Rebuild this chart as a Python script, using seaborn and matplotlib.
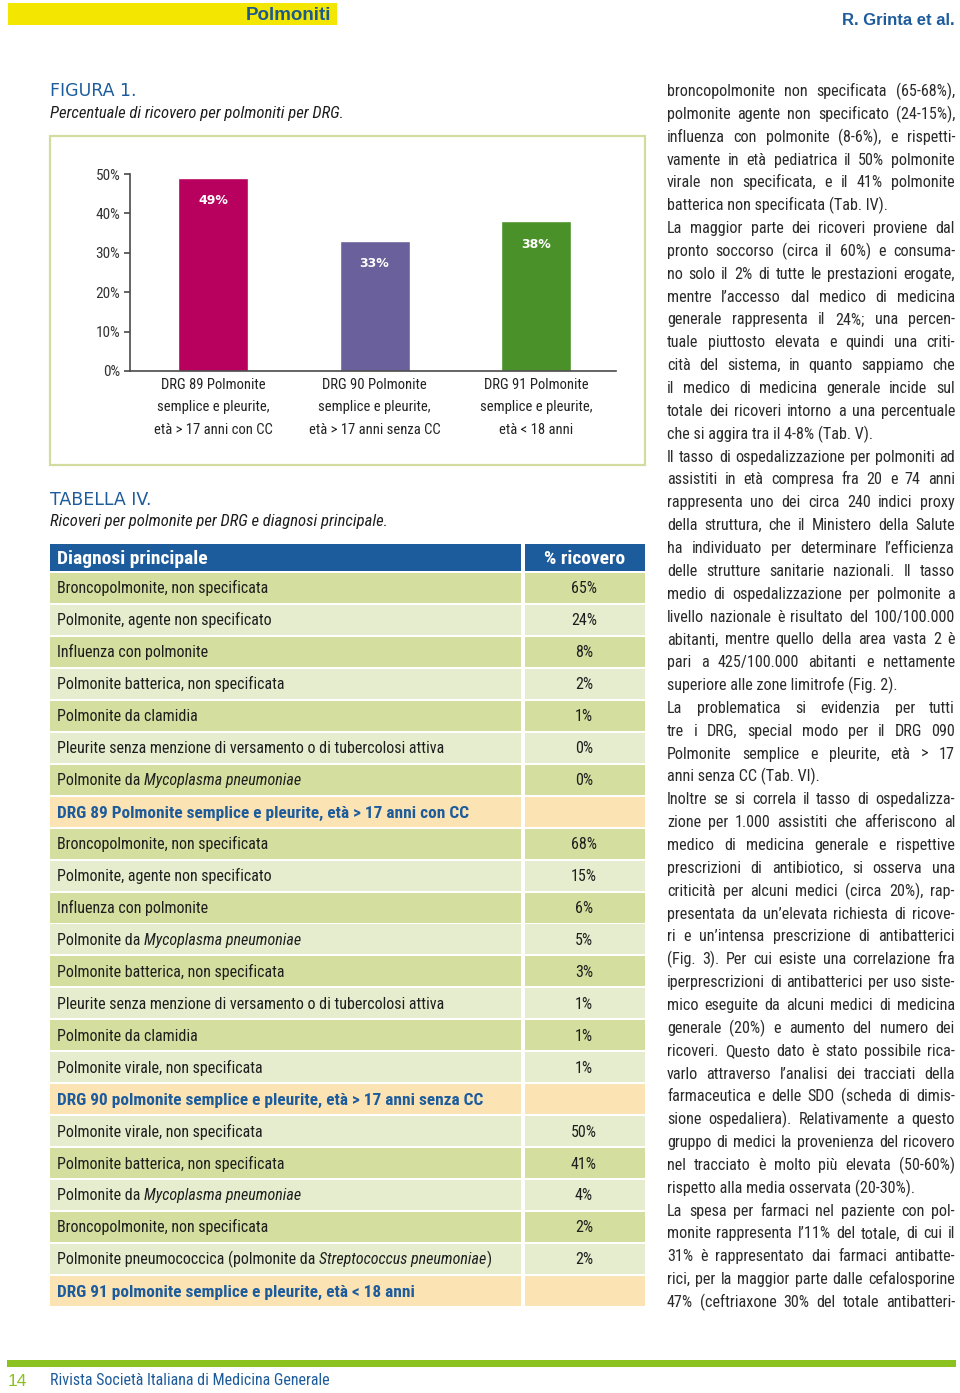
import numpy as np
import pandas as pd
import matplotlib
matplotlib.use("Agg")
import matplotlib.pyplot as plt
import seaborn as sns
from matplotlib import font_manager as fm
from matplotlib.patches import Rectangle

# ---------------- data ----------------
bar_categories = [
    "DRG 89 Polmonite\nsemplice e pleurite,\netà > 17 anni con CC",
    "DRG 90 Polmonite\nsemplice e pleurite,\netà > 17 anni senza CC",
    "DRG 91 Polmonite\nsemplice e pleurite,\netà < 18 anni",
]
bar_values = [49, 33, 38]
bar_colors = ["#b8005e", "#6a609b", "#4b9129"]
y_ticks = [0, 10, 20, 30, 40, 50]

table_header = ["Diagnosi principale", "% ricovero"]
table_labels = [
    "Broncopolmonite, non specificata",
    "Polmonite, agente non specificato",
    "Influenza con polmonite",
    "Polmonite batterica, non specificata",
    "Polmonite da clamidia",
    "Pleurite senza menzione di versamento o di tubercolosi attiva",
    "Polmonite da *Mycoplasma pneumoniae*",
    "DRG 89 Polmonite semplice e pleurite, età > 17 anni con CC",
    "Broncopolmonite, non specificata",
    "Polmonite, agente non specificato",
    "Influenza con polmonite",
    "Polmonite da *Mycoplasma pneumoniae*",
    "Polmonite batterica, non specificata",
    "Pleurite senza menzione di versamento o di tubercolosi attiva",
    "Polmonite da clamidia",
    "Polmonite virale, non specificata",
    "DRG 90 polmonite semplice e pleurite, età > 17 anni senza CC",
    "Polmonite virale, non specificata",
    "Polmonite batterica, non specificata",
    "Polmonite da *Mycoplasma pneumoniae*",
    "Broncopolmonite, non specificata",
    "Polmonite pneumococcica (polmonite da *Streptococcus pneumoniae*)",
    "DRG 91 polmonite semplice e pleurite, età < 18 anni",
]
table_values = ["65%", "24%", "8%", "2%", "1%", "0%", "0%", "",
                "68%", "15%", "6%", "5%", "3%", "1%", "1%", "1%", "",
                "50%", "41%", "4%", "2%", "2%", ""]
# row style: d = darker green, l = light green, s = section (peach)
row_shades = ["d", "l", "d", "l", "d", "l", "d", "s",
              "d", "l", "d", "l", "d", "l", "d", "l", "s",
              "l", "d", "l", "d", "l", "s"]

body_lines = [
    "broncopolmonite non specificata (65-68%),",
    "polmonite agente non specificato (24-15%),",
    "influenza con polmonite (8-6%), e rispetti-",
    "vamente in età pediatrica il 50% polmonite",
    "virale non specificata, e il 41% polmonite",
    "batterica non specificata (Tab. IV).",
    "La maggior parte dei ricoveri proviene dal",
    "pronto soccorso (circa il 60%) e consuma-",
    "no solo il 2% di tutte le prestazioni erogate,",
    "mentre l’accesso dal medico di medicina",
    "generale rappresenta il 24%; una percen-",
    "tuale piuttosto elevata e quindi una criti-",
    "cità del sistema, in quanto sappiamo che",
    "il medico di medicina generale incide sul",
    "totale dei ricoveri intorno a una percentuale",
    "che si aggira tra il 4-8% (Tab. V).",
    "Il tasso di ospedalizzazione per polmoniti ad",
    "assistiti in età compresa fra 20 e 74 anni",
    "rappresenta uno dei circa 240 indici proxy",
    "della struttura, che il Ministero della Salute",
    "ha individuato per determinare l’efficienza",
    "delle strutture sanitarie nazionali. Il tasso",
    "medio di ospedalizzazione per polmonite a",
    "livello nazionale è risultato del 100/100.000",
    "abitanti, mentre quello della area vasta 2 è",
    "pari a 425/100.000 abitanti e nettamente",
    "superiore alle zone limitrofe (Fig. 2).",
    "La problematica si evidenzia per tutti",
    "tre i DRG, special modo per il DRG 090",
    "Polmonite semplice e pleurite, età > 17",
    "anni senza CC (Tab. VI).",
    "Inoltre se si correla il tasso di ospedalizza-",
    "zione per 1.000 assistiti che afferiscono al",
    "medico di medicina generale e rispettive",
    "prescrizioni di antibiotico, si osserva una",
    "criticità per alcuni medici (circa 20%), rap-",
    "presentata da un’elevata richiesta di ricove-",
    "ri e un’intensa prescrizione di antibatterici",
    "(Fig. 3). Per cui esiste una correlazione fra",
    "iperprescrizioni di antibatterici per uso siste-",
    "mico eseguite da alcuni medici di medicina",
    "generale (20%) e aumento del numero dei",
    "ricoveri. Questo dato è stato possibile rica-",
    "varlo attraverso l’analisi dei tracciati della",
    "farmaceutica e delle SDO (scheda di dimis-",
    "sione ospedaliera). Relativamente a questo",
    "gruppo di medici la provenienza del ricovero",
    "nel tracciato è molto più elevata (50-60%)",
    "rispetto alla media osservata (20-30%).",
    "La spesa per farmaci nel paziente con pol-",
    "monite rappresenta l’11% del totale, di cui il",
    "31% è rappresentato dai farmaci antibatte-",
    "rici, per la maggior parte dalle cefalosporine",
    "47% (ceftriaxone 30% del totale antibatteri-",
]
paragraph_ends = [5, 15, 26, 30, 48]

# ---------------- fonts ----------------
sns.set_theme(style="white")
names = {f.name for f in fm.fontManager.ttflist}
dejavu_cond = any(f.name == "DejaVu Sans" and f.stretch == "condensed" for f in fm.fontManager.ttflist)
NARROW = None
for cand in ["Roboto Condensed", "Liberation Sans Narrow", "Open Sans Condensed", "Noto Sans Condensed"]:
    if cand in names:
        NARROW = cand
        break
USE_STRETCH = False
if NARROW is None:
    if dejavu_cond:
        NARROW, USE_STRETCH = "DejaVu Sans", True
    else:
        NARROW = "Roboto" if "Roboto" in names else "DejaVu Sans"
BOLDSANS = "Liberation Sans" if "Liberation Sans" in names else "DejaVu Sans"
plt.rcParams["font.family"] = [NARROW, "DejaVu Sans"]


def FP(size, weight="normal", style="normal", family=None):
    fam = family or NARROW
    kw = {}
    if family is None and USE_STRETCH:
        kw["stretch"] = "condensed"
    return fm.FontProperties(family=[fam, "DejaVu Sans"], size=size, weight=weight, style=style, **kw)


TXT = "#1e1e1e"
BLUE = "#1d5c9c"
W, H = 960, 1393
fig = plt.figure(figsize=(W / 100, H / 100), dpi=100)
bg = fig.add_axes([0, 0, 1, 1], zorder=0)
bg.set_xlim(0, W)
bg.set_ylim(H, 0)
bg.axis("off")


def px_axes(left, top, right, bottom):
    return fig.add_axes([left / W, 1 - bottom / H, (right - left) / W, (bottom - top) / H])


def base(yc, size):
    return yc + 0.34 * size * 100 / 72


fig.canvas.draw()
R = fig.canvas.get_renderer()


def tw(s, prop):
    w, h, d = R.get_text_width_height_descent(s, prop, ismath=False)
    return w


def put(x, yc, s, prop, color=TXT, ha="left"):
    return bg.text(x, base(yc, prop.get_size_in_points()), s, fontproperties=prop,
                   color=color, ha=ha, va="baseline")


def draw_rich(x, yc, s, size, weight="normal", color=TXT):
    parts = s.split("*")
    cx = x
    sp = tw("a a", FP(size, weight)) - tw("aa", FP(size, weight))
    for k, part in enumerate(parts):
        if not part:
            continue
        prop = FP(size, weight, "italic" if k % 2 else "normal")
        lead = len(part) - len(part.lstrip(" "))
        trail = len(part) - len(part.rstrip(" "))
        core = part.strip(" ")
        cx += lead * sp
        if core:
            put(cx, yc, core, prop, color=color)
            cx += tw(core, prop)
        cx += trail * sp

# ---------------- page header ----------------
bg.add_patch(Rectangle((8, 3), 329, 22, facecolor="#f3e600", edgecolor="none"))
put(331, 13.5, "Polmoniti", FP(13.5, "bold", family=BOLDSANS), color="#1d5a8c", ha="right")
put(955, 19, "R. Grinta et al.", FP(12, "bold", family=BOLDSANS), color=BLUE, ha="right")

# ---------------- figure ----------------
put(50, 90, "FIGURA 1.", FP(12.5, family="DejaVu Sans"), color=BLUE)
put(50, 112, "Percentuale di ricovero per polmoniti per DRG.", FP(12, style="italic"))
bg.add_patch(Rectangle((50, 136), 595, 329, facecolor="white", edgecolor="#d4db9e", lw=1.6))

ax = px_axes(130, 174, 616, 371)
ax.set_zorder(2)
ax.patch.set_alpha(0)
df = pd.DataFrame({"cat": bar_categories, "val": bar_values})
sns.barplot(data=df, x="cat", y="val", hue="cat", palette=bar_colors, saturation=1,
            width=0.433, errorbar=None, legend=False, ax=ax)
ax.set_xlim(-0.514, 2.495)
ax.set_ylim(0, 50)
ax.set_yticks(y_ticks)
ax.set_yticklabels([f"{v}%" for v in y_ticks])
ax.set_xlabel("")
ax.set_ylabel("")
for s in ["top", "right"]:
    ax.spines[s].set_visible(False)
for s in ["left", "bottom"]:
    ax.spines[s].set_visible(True)
    ax.spines[s].set_color("#4a4a4a")
    ax.spines[s].set_linewidth(1.2)
ax.tick_params(axis="y", left=True, length=4, width=1.2, color="#4a4a4a", pad=3,
               labelsize=11, labelcolor="#333333")
ax.tick_params(axis="x", bottom=False, length=0, pad=5, labelsize=10.5, labelcolor="#222222")
for t in ax.get_xticklabels():
    t.set_fontproperties(FP(10.5))
    t.set_linespacing(1.76)
for t in ax.get_yticklabels():
    t.set_fontproperties(FP(11))
for i, v in enumerate(bar_values):
    ax.annotate(f"{v}%", xy=(i, v), xytext=(0, -16.5), textcoords="offset points",
                ha="center", va="center", color="white",
                fontproperties=FP(9, "bold", family="DejaVu Sans"))

# ---------------- table ----------------
put(50, 499, "TABELLA IV.", FP(12.5, family="DejaVu Sans"), color=BLUE)
put(50, 520, "Ricoveri per polmonite per DRG e diagnosi principale.", FP(12, style="italic"))

C1L, C1R, C2L, C2R = 50, 521, 525, 645
HEAD_TOP, HEAD_BOT = 544, 571
bg.add_patch(Rectangle((C1L, HEAD_TOP), C1R - C1L, HEAD_BOT - HEAD_TOP, facecolor=BLUE, edgecolor="none"))
bg.add_patch(Rectangle((C2L, HEAD_TOP), C2R - C2L, HEAD_BOT - HEAD_TOP, facecolor=BLUE, edgecolor="none"))
put(57, 557.5, table_header[0], FP(14, "bold"), color="white")
put((C2L + C2R) / 2, 557.5, table_header[1], FP(14, "bold"), color="white", ha="center")

shade_col = {"d": "#d4df9f", "l": "#e6ecce", "s": "#fce3b3"}
ROW0, ROWH = 588.0, 31.95
for i, (lab, val, sh) in enumerate(zip(table_labels, table_values, row_shades)):
    yc = ROW0 + ROWH * i
    col = shade_col[sh]
    bg.add_patch(Rectangle((C1L, yc - 15), C1R - C1L, 30, facecolor=col, edgecolor="none"))
    bg.add_patch(Rectangle((C2L, yc - 15), C2R - C2L, 30, facecolor=col, edgecolor="none"))
    if sh == "s":
        draw_rich(57, yc, lab, 12.4, "bold", color=BLUE)
    else:
        draw_rich(57, yc, lab, 11.5)
    if val:
        put(584, yc, val, FP(11.5), ha="center")

# ---------------- body text column ----------------
X0, X1 = 667, 955
bsize = 12.5
prop = FP(bsize)
maxw = max(tw(l, prop) for l in body_lines)
bsize = bsize * (X1 - X0) / maxw * 0.99
prop = FP(bsize)
LINE0, LINEH = 90.5, 22.85
for i, line in enumerate(body_lines):
    yc = LINE0 + LINEH * i
    if i in paragraph_ends:
        put(X0, yc, line, prop, color="#2a2a2a")
        continue
    words = line.split(" ")
    widths = [tw(wd, prop) for wd in words]
    gap = ((X1 - X0) - sum(widths)) / max(len(words) - 1, 1)
    cx = X0
    for wd, wv in zip(words, widths):
        put(cx, yc, wd, prop, color="#2a2a2a")
        cx += wv + gap

# ---------------- footer ----------------
bg.add_patch(Rectangle((7, 1360), 949, 7, facecolor="#8cc21f", edgecolor="none"))
put(8, 1380, "14", FP(12.5, family=BOLDSANS), color="#8cc21f")
put(50, 1380, "Rivista Società Italiana di Medicina Generale", FP(11.5), color=BLUE)

fig.savefig("out.png", dpi=100)
